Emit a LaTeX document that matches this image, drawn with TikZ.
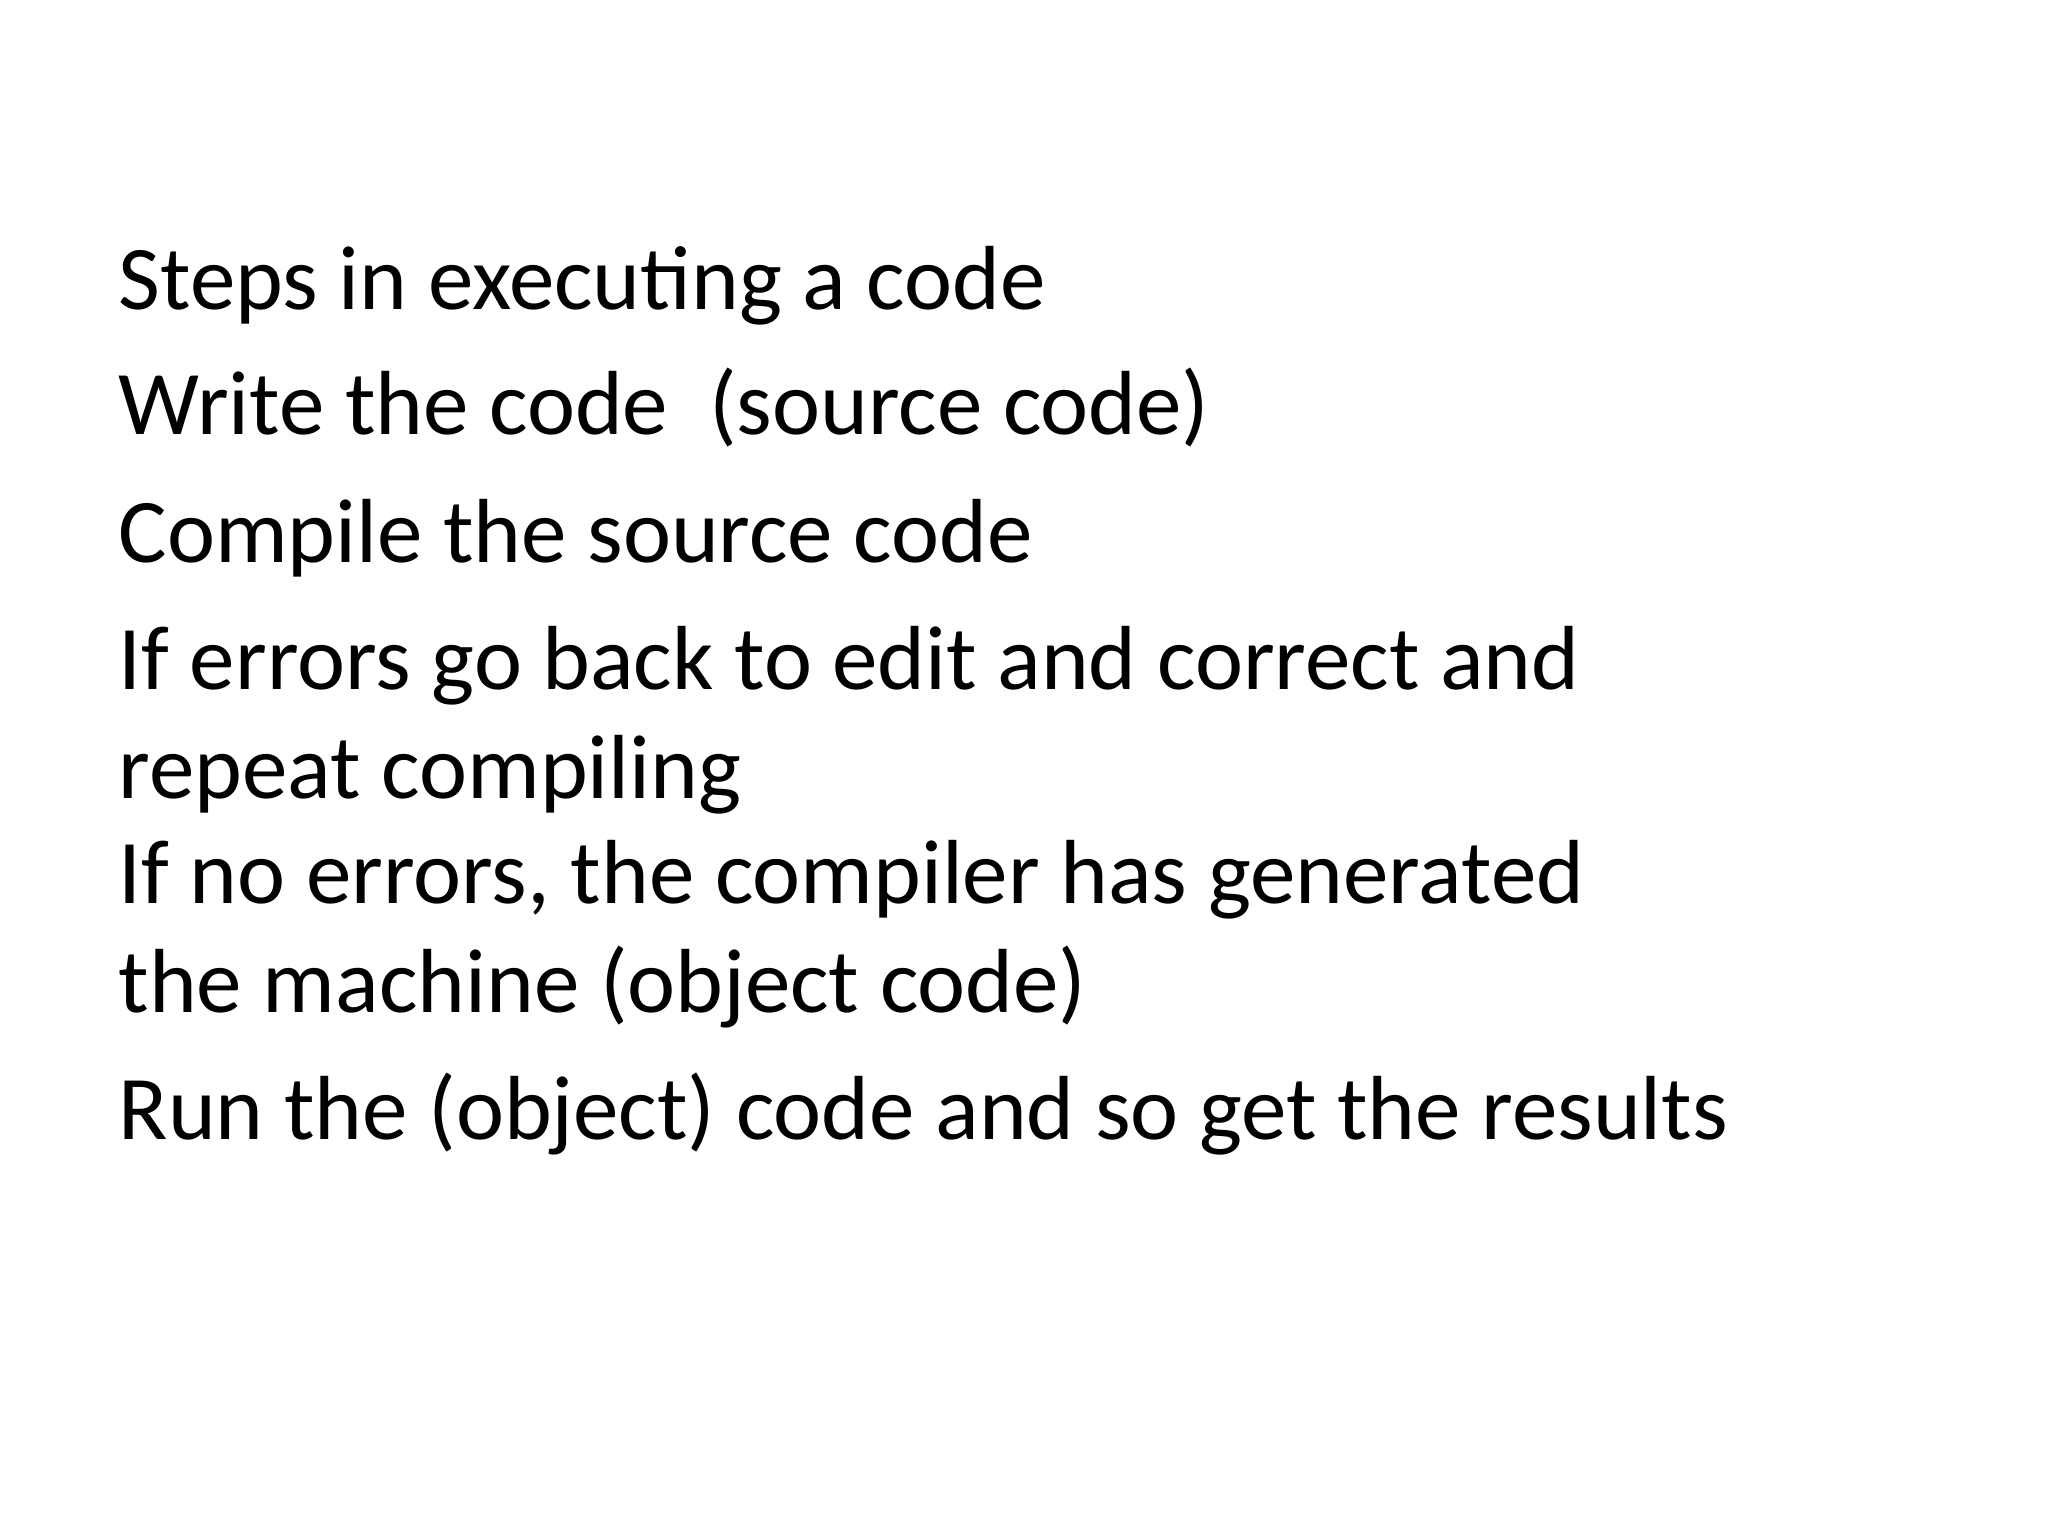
\documentclass[tikz,border=0pt]{standalone}
\usepackage{fontspec}
\setmainfont{Carlito}
\usetikzlibrary{positioning}

\begin{document}
\begin{tikzpicture}[line/.style={anchor=base west,inner sep=0,font=\fontsize{25.9}{31}\selectfont}]
	% Page
	\useasboundingbox (0,0) rectangle (20.48,15.36);
	% Place lines
	\node [line] (steps) at (1.18,12.26) {Steps in executing a code};
	\node [line] (write) at (1.18,11.01) {Write the code\ \ (source code)};
	\node [line] (compile) at (1.18,9.73) {Compile the source code};
	\node [line] (errors) at (1.18,8.46) {If errors go back to edit and correct and};
	\node [line] (repeat) at (1.18,7.37) {repeat compiling};
	\node [line] (noerrors) at (1.18,6.32) {If no errors, the compiler has generated};
	\node [line] (machine) at (1.18,5.23) {the machine (object code)};
	\node [line] (run) at (1.18,3.96) {Run the (object) code and so get the results};
\end{tikzpicture}
\end{document}
